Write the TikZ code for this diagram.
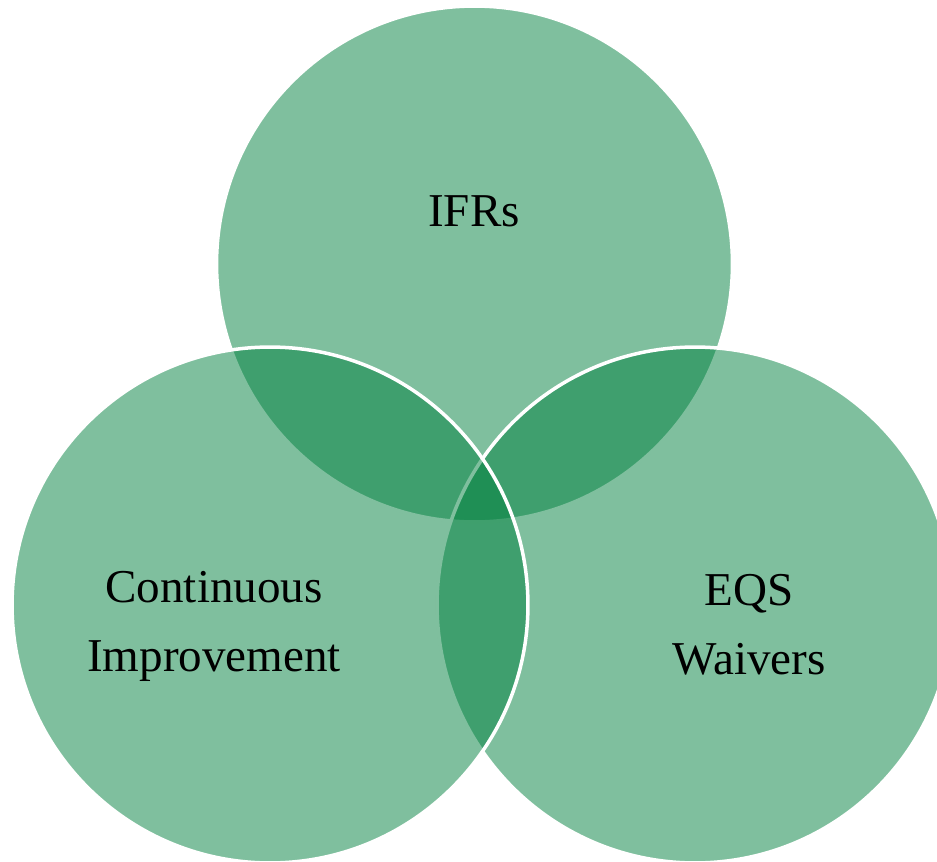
\documentclass[tikz,border=0pt]{standalone}
\usepackage{fontspec}
\setmainfont{Liberation Serif}
\usepackage{tikz}
\definecolor{venngreen}{RGB}{0,128,62}

\begin{document}
\begin{tikzpicture}[x=0.02cm,y=-0.02cm,
    venn/.style={circle,minimum size=10.32cm,inner sep=0pt,fill=venngreen,fill opacity=0.5,draw=white,draw opacity=1,line width=0.07cm},
    word/.style={align=center,font=\fontsize{26.8pt}{39.3pt}\selectfont}]
    \useasboundingbox (0,0) rectangle (937,862);
    \node[venn] (top) at (474.5,264) {};
    \node[venn] (right) at (695,605) {};
    \node[venn] (left) at (270,605) {};
    \node[word] (ifrs) at (474,211) {IFRs};
    \node[word] (ci) at (214,626) {Continuous\\Improvement};
    \node[word] (eqs) at (749,625) {EQS\\Waivers};
  \end{tikzpicture}
\end{document}
